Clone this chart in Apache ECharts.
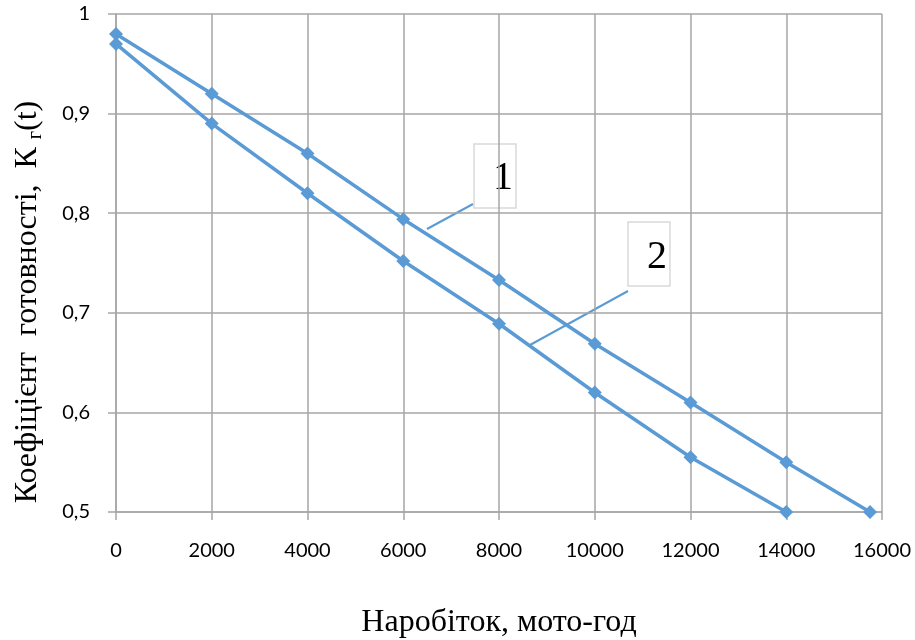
<!DOCTYPE html>
<html>
<head>
<meta charset="utf-8">
<script src="https://cdn.jsdelivr.net/npm/echarts@6/dist/echarts.min.js"></script>
<style>html,body{margin:0;padding:0;background:#fff}#c{width:915px;height:640px}</style>
</head>
<body>
<div id="c"></div>
<script>
const hours1 = [0, 2000, 4000, 6000, 8000, 10000, 12000, 14000, 15750];
const kg1 = [0.98, 0.92, 0.86, 0.794, 0.733, 0.669, 0.61, 0.55, 0.5];
const hours2 = [0, 2000, 4000, 6000, 8000, 10000, 12000, 14000];
const kg2 = [0.97, 0.89, 0.82, 0.752, 0.689, 0.62, 0.555, 0.5];
const seriesLabels = ['1', '2'];

const color = '#5b9bd5';
const chart = echarts.init(document.getElementById('c'));
function pts(xs, ys){ return xs.map((x,i)=>[x, ys[i]]); }
const serif = '"Liberation Serif", "DejaVu Serif", serif';
const sans = 'Lato, "Open Sans", sans-serif';

chart.setOption({
  animation: false,
  grid: {left: 116, right: 33, top: 14, bottom: 128, containLabel: false, outerBoundsMode: 'none'},
  xAxis: {
    type: 'value', min: 0, max: 16000, interval: 2000,
    name: 'Наробіток, мото-год', nameLocation: 'middle', nameGap: 95,
    nameTextStyle: {fontFamily: serif, fontSize: 32, color: '#000'},
    axisLine: {show: true, lineStyle: {color: '#a6a6a6', width: 1.5}},
    axisTick: {show: true, inside: false, length: 8, lineStyle: {color: '#a6a6a6', width: 1.5}},
    splitLine: {show: true, lineStyle: {color: '#a6a6a6', width: 1.5}},
    axisLabel: {margin: 29, fontFamily: sans, fontSize: 20, color: '#000', formatter: v => String(v)}
  },
  yAxis: {
    type: 'value', min: 0.5, max: 1, interval: 0.1,
    axisLine: {show: true, lineStyle: {color: '#a6a6a6', width: 1.5}},
    axisTick: {show: true, inside: false, length: 8, lineStyle: {color: '#a6a6a6', width: 1.5}},
    splitLine: {show: true, lineStyle: {color: '#a6a6a6', width: 1.5}},
    axisLabel: {margin: 26, fontFamily: sans, fontSize: 20, color: '#000',
      formatter: v => (Math.round(v*10)/10).toString().replace('.', ',')}
  },
  series: [
    {name: seriesLabels[0], type: 'line', data: pts(hours1, kg1), symbol: 'diamond', symbolSize: 14,
     lineStyle: {color: color, width: 3.5}, itemStyle: {color: color}},
    {name: seriesLabels[1], type: 'line', data: pts(hours2, kg2), symbol: 'diamond', symbolSize: 14,
     lineStyle: {color: color, width: 3.5}, itemStyle: {color: color}}
  ],
  graphic: [
    {type: 'text', x: 28, y: 302, rotation: Math.PI/2,
     style: {text: '{a|Коефіцієнт  готовності,  К }{s|г}{a|(t)}', align: 'center', verticalAlign: 'middle',
       rich: {a: {fontFamily: serif, fontSize: 32, color: '#000'},
              s: {fontFamily: serif, fontSize: 20, color: '#000', padding: [16, 0, 0, 0]}}}},
    {type: 'line', shape: {x1: 473, y1: 204, x2: 427, y2: 229}, style: {stroke: color, lineWidth: 2}},
    {type: 'line', shape: {x1: 628, y1: 291, x2: 530, y2: 345}, style: {stroke: color, lineWidth: 2}},
    {type: 'rect', shape: {x: 474, y: 144, width: 42, height: 64}, style: {fill: '#fff', stroke: '#d9d9d9', lineWidth: 1.5}},
    {type: 'text', x: 503, y: 178, style: {text: seriesLabels[0], align: 'center', verticalAlign: 'middle', fontFamily: serif, fontSize: 40, fill: '#000'}},
    {type: 'rect', shape: {x: 628, y: 222, width: 42, height: 64}, style: {fill: '#fff', stroke: '#d9d9d9', lineWidth: 1.5}},
    {type: 'text', x: 657, y: 257, style: {text: seriesLabels[1], align: 'center', verticalAlign: 'middle', fontFamily: serif, fontSize: 40, fill: '#000'}}
  ]
});
</script>
</body>
</html>
